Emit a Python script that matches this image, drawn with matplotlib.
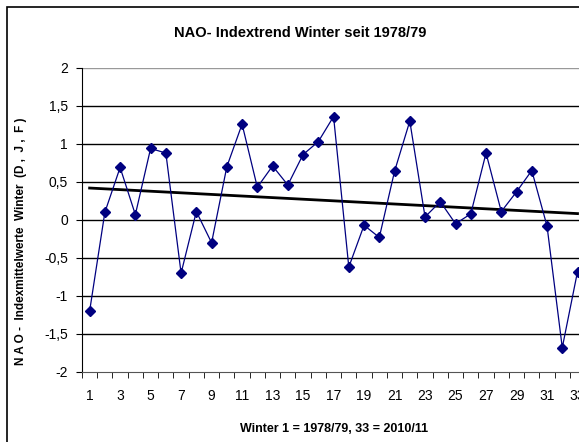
import numpy as np
import matplotlib
matplotlib.use('Agg')
import matplotlib.pyplot as plt
from matplotlib.patches import Rectangle

# NAO winter index (D, J, F), winter 1 = 1978/79 ... 33 = 2010/11
winters = list(range(1, 34))
nao = [-1.20, 0.10, 0.69, 0.07, 0.94, 0.88, -0.70, 0.11, -0.30, 0.70,
       1.26, 0.43, 0.71, 0.46, 0.86, 1.03, 1.36, -0.62, -0.07, -0.23,
       0.64, 1.30, 0.04, 0.24, -0.05, 0.08, 0.88, 0.11, 0.37, 0.65,
       -0.08, -1.68, -0.68]
yticks = [-2, -1.5, -1, -0.5, 0, 0.5, 1, 1.5, 2]
ytick_labels = ['-2', '-1,5', '-1', '-0,5', '0', '0,5', '1', '1,5', '2']
xticks = list(range(1, 34, 2))

plt.rcParams['font.family'] = ['Liberation Sans', 'DejaVu Sans']

fig = plt.figure(figsize=(5.79, 4.42), dpi=100)
ax = fig.add_axes([0.1416, 0.1584, 0.869, 0.688])

# outer chart frame (cropped on the right)
fig.patches.append(Rectangle((7 / 579, -0.05), 1.2, 1 - 7 / 442 + 0.05,
                             transform=fig.transFigure, fill=False,
                             edgecolor='black', linewidth=1.2))

for y in yticks[1:-1]:
    ax.axhline(y, color='black', linewidth=1.0, zorder=1)
ax.axhline(2, color='#999999', linewidth=1.0, zorder=1)

ax.plot(winters, nao, color='#000080', linewidth=0.9, marker='D',
        markersize=5, markerfacecolor='#000080', markeredgecolor='#000080', zorder=3)

# linear trend
coef = np.polyfit(winters, nao, 1)
trend = np.polyval(coef, [winters[0], winters[-1]])
ax.plot([winters[0], winters[-1]], trend, color='black', linewidth=2, zorder=2)

ax.set_xlim(0.5, 33.5)
ax.set_ylim(-2, 2)
ax.set_yticks(yticks)
ax.set_yticklabels(ytick_labels)
ax.set_xticks(xticks)
ax.set_xticks(np.arange(0.5, 34, 1), minor=True)
ax.tick_params(axis='x', which='major', length=0, pad=12, labelsize=10)
ax.tick_params(axis='x', which='minor', direction='out', length=4, color='black')
ax.tick_params(axis='y', direction='out', length=4, labelsize=10, pad=6)

for side in ['top', 'right']:
    ax.spines[side].set_visible(False)
ax.spines['left'].set_color('black')
ax.spines['bottom'].set_color('#555555')

fig.text(300 / 579, 1 - 33 / 442, 'NAO- Indextrend Winter seit 1978/79',
         fontsize=10.5, fontweight='bold', ha='center', va='center')
fig.text(334 / 579, 1 - 429 / 442, 'Winter 1 = 1978/79, 33 = 2010/11',
         fontsize=9, fontweight='bold', ha='center', va='center')
fig.text(21 / 579, 1 - 241 / 442, 'N A O -  Indexmittelwerte  Winter  (D ,  J ,  F )',
         fontsize=8.5, fontweight='bold', ha='center', va='center', rotation=90)

fig.savefig('out.png', dpi=100)
